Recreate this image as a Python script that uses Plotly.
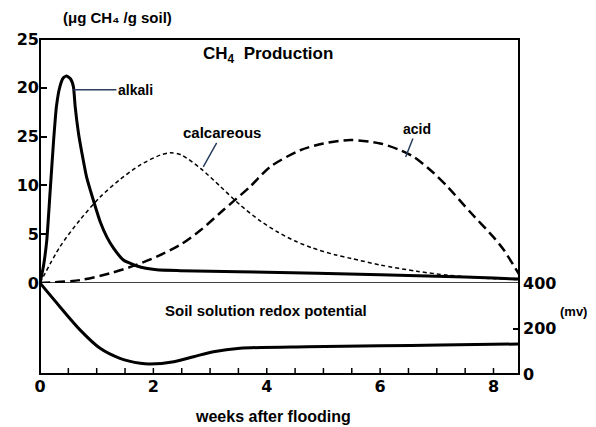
import plotly.graph_objects as go

# --- data ---
alkali_x = [0, 0.06, 0.12, 0.18, 0.24, 0.29, 0.35, 0.41, 0.47, 0.54, 0.59, 0.62, 0.68, 0.74, 0.82, 0.94, 1.06, 1.18, 1.30, 1.47, 1.71, 2.06, 2.47, 3.0, 4.0, 4.89, 6.0, 7.0, 8.0, 8.45]
alkali_y = [0, 1.7, 4.4, 9.5, 14.6, 18.1, 20.1, 21.0, 21.2, 20.9, 20.1, 18.1, 15.3, 13.3, 10.9, 8.5, 6.3, 4.7, 3.55, 2.36, 1.74, 1.35, 1.26, 1.2, 1.1, 1.0, 0.85, 0.7, 0.5, 0.4]

calc_x = [0, 0.35, 0.71, 1.06, 1.41, 1.77, 2.12, 2.30, 2.50, 2.83, 3.18, 3.53, 3.9, 4.2, 4.5, 4.8, 5.2, 5.5, 6.0, 6.65, 7.2, 7.83, 8.45]
calc_y = [0, 3.7, 6.5, 8.8, 10.6, 12.1, 13.1, 13.35, 13.1, 11.75, 9.9, 8.0, 6.3, 5.2, 4.3, 3.6, 2.9, 2.5, 1.85, 1.2, 0.8, 0.5, 0.35]

acid_x = [0, 0.71, 1.24, 1.65, 2.06, 2.47, 2.83, 3.2, 3.71, 4.06, 4.59, 5.0, 5.48, 6.0, 6.36, 6.6, 6.94, 7.2, 7.6, 8.0, 8.18, 8.45]
acid_y = [0, 0.3, 1.0, 1.75, 2.7, 3.9, 5.4, 7.3, 9.9, 11.9, 13.6, 14.3, 14.65, 14.3, 13.6, 12.9, 11.3, 9.8, 7.2, 4.7, 3.4, 0.9]

redox_x = [0, 0.35, 0.71, 1.06, 1.41, 1.77, 1.94, 2.36, 2.71, 3.06, 3.53, 4.71, 6.0, 7.07, 8.45]
redox_y = [400, 296, 193, 113, 69, 47, 44, 54, 76, 98, 113, 120, 124, 127, 132]

ch4_ticks = [0, 5, 10, 15, 20, 25]
ch4_ticktext = ["0", "5", "10", "25", "20", "25"]
mv_ticks = [0, 200, 400]
week_ticks = [i * 0.5 for i in range(17)]
week_ticktext = [str(int(v)) if v % 2 == 0 else "" for v in week_ticks]

FONT = "Liberation Sans"
NUMFONT = "DejaVu Sans"
split = 91 / 335  # lower-panel share of the plot height

fig = go.Figure()
fig.add_trace(go.Scatter(x=alkali_x, y=alkali_y, mode="lines", line=dict(color="black", width=3, shape="spline", smoothing=0.5), yaxis="y", showlegend=False))
fig.add_trace(go.Scatter(x=calc_x, y=calc_y, mode="lines", line=dict(color="black", width=1.5, dash="4px,3px", shape="spline", smoothing=0.8), yaxis="y", showlegend=False))
fig.add_trace(go.Scatter(x=acid_x, y=acid_y, mode="lines", line=dict(color="black", width=2.5, dash="10px,5px", shape="spline", smoothing=0.8), yaxis="y", showlegend=False))
fig.add_trace(go.Scatter(x=redox_x, y=redox_y, mode="lines", line=dict(color="black", width=3, shape="spline", smoothing=0.8), yaxis="y2", showlegend=False))

fig.update_layout(
    width=588, height=419,
    margin=dict(l=32, r=77, t=31, b=53, autoexpand=False),
    paper_bgcolor="white", plot_bgcolor="rgba(0,0,0,0)",
    font=dict(family=FONT, size=16, color="black", weight="bold"),
    xaxis=dict(range=[0, 8.45], anchor="y2", tickvals=week_ticks, ticktext=week_ticktext,
               ticks="", showgrid=False, zeroline=False, showline=False, ticklabelstandoff=1, automargin=False,
               tickfont=dict(size=16, family=NUMFONT, weight="bold")),
    yaxis=dict(domain=[split, 1], range=[0, 25], tickvals=ch4_ticks, ticktext=ch4_ticktext,
               ticks="inside", ticklen=7, tickwidth=1.5, tickcolor="black",
               showgrid=False, zeroline=False, showline=False, anchor="x", automargin=False,
               tickfont=dict(size=16, family=NUMFONT, weight="bold")),
    yaxis2=dict(domain=[0, split], range=[0, 400], tickvals=mv_ticks, side="right", anchor="x",
                ticks="inside", ticklen=6, tickwidth=1.5, tickcolor="black",
                showgrid=False, zeroline=False, showline=False, automargin=False, ticklabelstandoff=3,
                tickfont=dict(size=16, family=NUMFONT, weight="bold")),
)

# frame and the panel divider (CH4 zero line)
fig.add_shape(type="rect", xref="paper", yref="paper", x0=0, x1=1, y0=0, y1=1, line=dict(color="black", width=2), layer="below")
fig.add_shape(type="line", xref="paper", yref="y", x0=0, x1=1, y0=0, y1=0, line=dict(color="black", width=1.5), layer="below")
# small inward week ticks along the bottom axis (placed through the x scale)
for v in week_ticks:
    fig.add_shape(type="line", xref="x", yref="paper", x0=v, x1=v, y0=0, y1=6 / 335,
                  line=dict(color="black", width=1.5))

C = dict(xanchor="center", yanchor="middle")
ann = []
ann.append(dict(xref="x", yref="paper", x=1.36, y=1.063, text="(μg CH₄ /g soil)", showarrow=False, font=dict(size=15), **C))
ann.append(dict(xref="paper", yref="paper", x=0.476, y=0.952, text="CH<sub>4</sub>  Production", showarrow=False, font=dict(size=17), **C))
ann.append(dict(xref="paper", yref="paper", x=0.472, y=0.191, text="Soil solution redox potential", showarrow=False, font=dict(size=15), **C))
ann.append(dict(xref="paper", yref="paper", x=1.146, y=0.188, text="(mv)", showarrow=False, font=dict(size=13), xanchor="right", yanchor="middle"))
ann.append(dict(xref="paper", yref="paper", x=0.486, y=-0.128, text="weeks after flooding", showarrow=False, font=dict(size=16), **C))
ann.append(dict(xref="x", yref="y", x=0.59, y=19.8, ax=62, ay=0, text="alkali", showarrow=True, arrowhead=0, arrowwidth=1.5, font=dict(size=14), **C))
ann.append(dict(xref="x", yref="y", x=2.88, y=11.9, ax=19, ay=-34, text="calcareous", showarrow=True, arrowhead=0, arrowwidth=1.5, font=dict(size=15), **C))
ann.append(dict(xref="x", yref="y", x=6.45, y=12.9, ax=11, ay=-28, text="acid", showarrow=True, arrowhead=0, arrowwidth=1.5, font=dict(size=14), **C))
fig.update_layout(annotations=ann)

fig.write_html("out.html")
